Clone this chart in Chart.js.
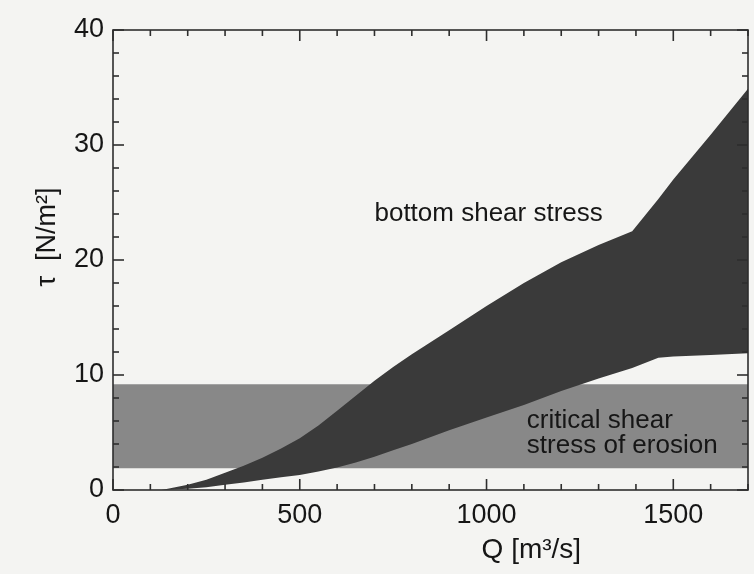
<!DOCTYPE html>
<html>
<head>
<meta charset="utf-8">
<script src="https://cdn.jsdelivr.net/npm/chart.js@4.4.1/dist/chart.umd.min.js"></script>
<style>
  html, body { margin: 0; padding: 0; background: #f4f4f2; }
  #wrap { width: 754px; height: 574px; }
</style>
</head>
<body>
<div id="wrap"><canvas id="c" width="754" height="574"></canvas></div>
<script>
// ---- data ----
const dischargeQ = [130, 200, 250, 300, 350, 400, 450, 500, 550, 600, 650, 700, 750, 800, 900, 1000, 1100, 1200, 1300, 1390, 1460, 1500, 1600, 1700];
const shearUpper = [0, 0.45, 0.9, 1.5, 2.1, 2.8, 3.6, 4.5, 5.6, 6.9, 8.2, 9.5, 10.7, 11.8, 13.9, 16.0, 18.0, 19.8, 21.3, 22.5, 25.3, 27.0, 30.9, 34.9];
const shearLower = [0, 0.1, 0.25, 0.45, 0.65, 0.9, 1.1, 1.3, 1.6, 1.95, 2.4, 2.9, 3.45, 4.0, 5.2, 6.3, 7.4, 8.6, 9.7, 10.6, 11.5, 11.6, 11.75, 11.9];
const criticalQ = [0, 1700];
const criticalTop = [9.2, 9.2];
const criticalBottom = [1.9, 1.9];
const xTickLabels = [0, 500, 1000, 1500];
const yTickLabels = [0, 10, 20, 30, 40];
const regionLabels = ['bottom shear stress', 'critical shear', 'stress of erosion'];
const xTitle = 'Q [m³/s]';
const yTitle = 'τ  [N/m²]';

// ---- build ----
const pts = (xs, ys) => xs.map((v, i) => ({ x: v, y: ys[i] }));
const FONT = '"Liberation Sans", Arial, Helvetica, sans-serif';
const INK = '#161616';

const decor = {
  id: 'decor',
  afterDatasetsDraw(chart) {
    const { ctx, chartArea: a, scales: { x, y } } = chart;
    ctx.save();
    ctx.strokeStyle = '#2e2e2e';
    ctx.lineWidth = 1.6;
    const line = (x1, y1, x2, y2) => { ctx.beginPath(); ctx.moveTo(x1, y1); ctx.lineTo(x2, y2); ctx.stroke(); };
    for (let v = 0; v <= 1700; v += 100) {
      const px = x.getPixelForValue(v);
      const len = xTickLabels.includes(v) ? 11 : 6;
      line(px, a.bottom, px, a.bottom - len);
      line(px, a.top, px, a.top + len);
    }
    for (let v = 0; v <= 40; v += 2) {
      const py = y.getPixelForValue(v);
      const len = yTickLabels.includes(v) ? 11 : 6;
      line(a.left, py, a.left + len, py);
      line(a.right, py, a.right - len, py);
    }
    ctx.strokeRect(a.left, a.top, a.right - a.left, a.bottom - a.top);

    ctx.fillStyle = INK;
    ctx.font = '26px ' + FONT;
    ctx.textAlign = 'left';
    ctx.textBaseline = 'middle';
    ctx.fillText(regionLabels[0], x.getPixelForValue(700), y.getPixelForValue(24.0));
    ctx.fillText(regionLabels[1], x.getPixelForValue(1108), y.getPixelForValue(6.0));
    ctx.fillText(regionLabels[2], x.getPixelForValue(1108), y.getPixelForValue(3.8));

    // axis titles
    ctx.textAlign = 'center';
    ctx.font = '28px ' + FONT;
    ctx.fillText(xTitle, x.getPixelForValue(1120), 550);
    ctx.font = '27px ' + FONT;
    ctx.translate(48, y.getPixelForValue(22.0));
    ctx.rotate(-Math.PI / 2);
    ctx.fillText(yTitle, 0, 0);
    ctx.restore();
  }
};

new Chart(document.getElementById('c'), {
  type: 'line',
  data: {
    datasets: [
      { data: pts(dischargeQ, shearUpper), fill: '+1', backgroundColor: '#3a3a3a', borderWidth: 0, pointRadius: 0, tension: 0 },
      { data: pts(dischargeQ, shearLower), fill: false, borderWidth: 0, pointRadius: 0, tension: 0 },
      { data: pts(criticalQ, criticalTop), fill: '+1', backgroundColor: '#888888', borderWidth: 0, pointRadius: 0 },
      { data: pts(criticalQ, criticalBottom), fill: false, borderWidth: 0, pointRadius: 0 }
    ]
  },
  options: {
    responsive: false,
    animation: false,
    layout: { padding: { top: 30, right: 6, left: 0, bottom: 0 } },
    plugins: { legend: { display: false }, tooltip: { enabled: false } },
    scales: {
      x: {
        type: 'linear', min: 0, max: 1700,
        grid: { display: false }, border: { display: false },
        afterFit: s => { s.height = 84; },
        afterBuildTicks: s => { s.ticks = xTickLabels.map(v => ({ value: v })); },
        ticks: { color: INK, font: { family: FONT, size: 27 }, padding: 1, maxRotation: 0, callback: v => String(v) }
      },
      y: {
        type: 'linear', min: 0, max: 40,
        grid: { display: false }, border: { display: false },
        afterFit: s => { s.width = 113; },
        afterBuildTicks: s => { s.ticks = yTickLabels.map(v => ({ value: v })); },
        ticks: { color: INK, font: { family: FONT, size: 27 }, padding: 1, callback: v => String(v) }
      }
    }
  },
  plugins: [decor]
});
</script>
</body>
</html>
